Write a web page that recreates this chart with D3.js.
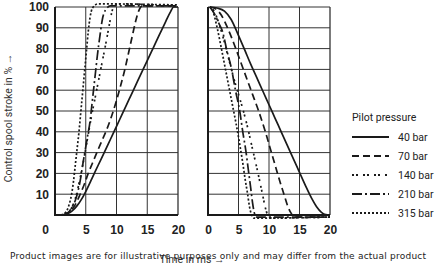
<!DOCTYPE html>
<html>
<head>
<meta charset="utf-8">
<script src="https://cdn.jsdelivr.net/npm/d3@7"></script>
<style>
  html, body { margin: 0; padding: 0; background: #fff; }
  svg { display: block; }
</style>
</head>
<body>
<svg id="chart" width="436" height="266"></svg>
<script>
// tick values
const strokeTicks = [10, 20, 30, 40, 50, 60, 70, 80, 90, 100]
const timeTicks = [0, 5, 10, 15, 20]
const pressures = ["40 bar", "70 bar", "140 bar", "210 bar", "315 bar"]

// opening: [time ms, stroke %]
const open40 = [[1.2,0],[2,0.6],[2.8,2],[3.6,4.5],[4.4,8],[5.2,12.5],[6,17.5],[7,23.8],[8,30],[9,36.3],[10,42.6],[11,49],[12,55.3],[13,61.6],[14,68],[15,74.2],[16,80.5],[17,86.8],[18,93],[18.8,97.8],[19.3,100],[20,100]]
const open70 = [[1.3,0],[2.3,1.5],[3.2,4.5],[4.1,10],[4.8,15],[5.4,20],[6.1,25],[6.8,30],[7.6,35.5],[8.4,41],[9.2,47.5],[10,55],[10.7,62.5],[11.4,70.5],[12,78.5],[12.6,86.5],[13.1,93],[13.6,98],[14.2,100.5],[20,100.5]]
const open140 = [[1.2,0],[2,1],[2.8,4],[3.5,10],[4.1,18],[4.7,27],[5.3,37],[5.9,47],[6.5,56],[7.1,65],[7.7,74],[8.3,83],[8.8,91],[9.2,97],[9.6,100.5],[10.5,101.5],[20,100.5]]
const open210 = [[1.3,0],[2.2,1.3],[2.8,4],[3.3,7],[3.7,11],[4.1,16.5],[4.5,24],[4.9,31],[5.3,38],[5.7,45],[6,53],[6.3,61],[6.6,69],[6.9,77],[7.3,86],[7.7,94],[8.2,98.5],[9,100.5],[20,100.5]]
const open315 = [[1,0],[1.8,1.5],[2.3,5],[2.7,10],[3,16],[3.3,24],[3.6,32],[3.9,40],[4.15,48],[4.4,56],[4.65,64],[4.9,72],[5.15,80],[5.4,88],[5.7,95],[6.1,99.5],[7,101.5],[20,101]]

// closing: [time ms, stroke %]
const close40 = [[0.3,100],[1.5,99.5],[2.7,98],[3.8,94],[4.9,87],[6,79.5],[7,72.5],[8,66],[9,59.5],[10,53],[11,46.5],[12,40],[13,33.5],[14,27],[15,20.5],[16,14],[17,8],[17.8,4],[18.6,1.3],[19.3,0.2],[20,0]]
const close70 = [[0.3,100],[1.3,99],[2.2,96],[3.2,90],[4.3,82],[5.3,74],[6.3,66],[7.3,58],[8.3,50],[9.3,41],[10.2,32],[11,24],[11.8,16],[12.5,9.5],[13.1,4],[13.6,1],[14.2,-1],[20,-1]]
const close140 = [[0.3,100],[1,98],[1.8,92],[2.6,84],[3.4,75],[4.2,66],[5,58],[5.8,50],[6.5,42],[7.2,33],[7.9,24],[8.5,16],[9,9],[9.4,3.5],[9.8,0],[10.5,-1.5],[20,-1]]
const close210 = [[0.3,100],[1,97],[1.8,92],[2.4,88],[3.1,79],[3.8,71],[4.5,60],[5.2,50],[5.7,40],[6.2,31],[6.6,22],[7,13],[7.3,6],[7.6,1],[8,-1],[20,-1]]
const close315 = [[0.3,100],[0.8,98],[1.5,90],[2.2,80],[2.8,71],[3.4,62],[4,53],[4.6,44],[5.2,34],[5.7,25],[6.1,17],[6.5,10],[6.8,4],[7.1,0.5],[7.5,-1.5],[20,-1]]

const opening = [open40, open70, open140, open210, open315]
const closing = [close40, close70, close140, close210, close315]

// line styles per pressure
const dashFor = {"40 bar": null, "70 bar": "7,4", "140 bar": "2,2,2,5", "210 bar": "10,3,2,3", "315 bar": "2,2"}

const svg = d3.select("#chart")
const ink = "#1a1a1a"
const y = d3.scaleLinear().domain([0, 100]).range([215, 7])

const panels = [
  {x: d3.scaleLinear().domain([0, 20]).range([55, 178]), series: opening, yLabels: true, zeroShift: -10},
  {x: d3.scaleLinear().domain([0, 20]).range([208, 330]), series: closing, yLabels: false, zeroShift: 0},
]

panels.forEach((p) => {
  const g = svg.append("g")
  const [x0, x1] = p.x.range()

  // grid
  g.append("g").selectAll("line")
    .data(strokeTicks)
    .join("line")
    .attr("x1", x0).attr("x2", x1)
    .attr("y1", (d) => y(d)).attr("y2", (d) => y(d))
    .attr("stroke", "#333").attr("stroke-width", 1)
  g.append("g").selectAll("line")
    .data(timeTicks.filter((d) => d > 0))
    .join("line")
    .attr("x1", (d) => p.x(d)).attr("x2", (d) => p.x(d))
    .attr("y1", y(0)).attr("y2", y(100))
    .attr("stroke", "#333").attr("stroke-width", (d) => (d === 20 ? 1.3 : 1))

  // axes frame (left + bottom heavier)
  g.append("line").attr("x1", x0).attr("x2", x0).attr("y1", y(0) + 1).attr("y2", y(100))
    .attr("stroke", ink).attr("stroke-width", 2)
  g.append("line").attr("x1", x0).attr("x2", x1).attr("y1", y(0)).attr("y2", y(0))
    .attr("stroke", ink).attr("stroke-width", 2)

  // x tick labels
  g.append("g")
    .attr("transform", `translate(0,${y(0)})`)
    .call(d3.axisBottom(p.x).tickValues(timeTicks).tickSize(0).tickPadding(10))
    .call((gg) => gg.select(".domain").remove())
    .call((gg) => gg.selectAll("text")
      .attr("font-family", "'Liberation Sans', Arial, sans-serif")
      .attr("font-weight", "bold").attr("font-size", 12).attr("fill", "#222")
      .attr("dx", (d) => (d === 0 ? p.zeroShift : 0)))

  if (p.yLabels) {
    g.append("g")
      .attr("transform", `translate(${x0},0)`)
      .call(d3.axisLeft(y).tickValues(strokeTicks).tickSize(0).tickPadding(6))
      .call((gg) => gg.select(".domain").remove())
      .call((gg) => gg.selectAll("text")
        .attr("font-family", "'Liberation Sans', Arial, sans-serif")
        .attr("font-weight", "bold").attr("font-size", 12).attr("fill", "#222"))
  }

  const line = d3.line()
    .x((d) => p.x(d[0]))
    .y((d) => y(d[1]))
    .curve(d3.curveMonotoneX)

  g.append("g").selectAll("path")
    .data(p.series)
    .join("path")
    .attr("fill", "none")
    .attr("stroke", ink)
    .attr("stroke-width", 1.7)
    .attr("stroke-dasharray", (d, i) => dashFor[pressures[i]])
    .attr("d", line)
})

// y title
svg.append("text")
  .attr("transform", "translate(12,118) rotate(-90)")
  .attr("text-anchor", "middle")
  .attr("font-family", "Roboto, sans-serif")
  .attr("font-size", 10.5)
  .attr("fill", "#333")
  .text("Control spool stroke in % \u2192")

// x title
svg.append("text")
  .attr("x", 192).attr("y", 263)
  .attr("text-anchor", "middle")
  .attr("font-family", "Roboto, sans-serif")
  .attr("font-size", 10.5)
  .attr("fill", "#333")
  .text("Time in ms \u2192")

// legend
const legend = svg.append("g").attr("transform", "translate(352,0)")
legend.append("text")
  .attr("x", 0).attr("y", 121)
  .attr("font-family", "Roboto, sans-serif").attr("font-size", 10.5).attr("fill", "#222")
  .text("Pilot pressure")
const rowY = d3.scalePoint().domain(pressures).range([137, 213])
const rows = legend.selectAll("g.row").data(pressures).join("g")
  .attr("class", "row")
  .attr("transform", (d) => `translate(0,${rowY(d)})`)
rows.append("line")
  .attr("x1", 0).attr("x2", 37)
  .attr("stroke", ink).attr("stroke-width", 2)
  .attr("stroke-dasharray", (d) => dashFor[d])
rows.append("text")
  .attr("x", 46).attr("y", 4)
  .attr("font-family", "Roboto, sans-serif").attr("font-size", 10.5).attr("fill", "#222")
  .text((d) => d)

// footer notice
svg.append("text")
  .attr("x", 10).attr("y", 259)
  .attr("textLength", 416)
  .attr("font-family", "'DejaVu Sans', sans-serif")
  .attr("font-size", 9)
  .attr("fill", "#222")
  .text("Product images are for illustrative purposes only and may differ from the actual product")
</script>
</body>
</html>
